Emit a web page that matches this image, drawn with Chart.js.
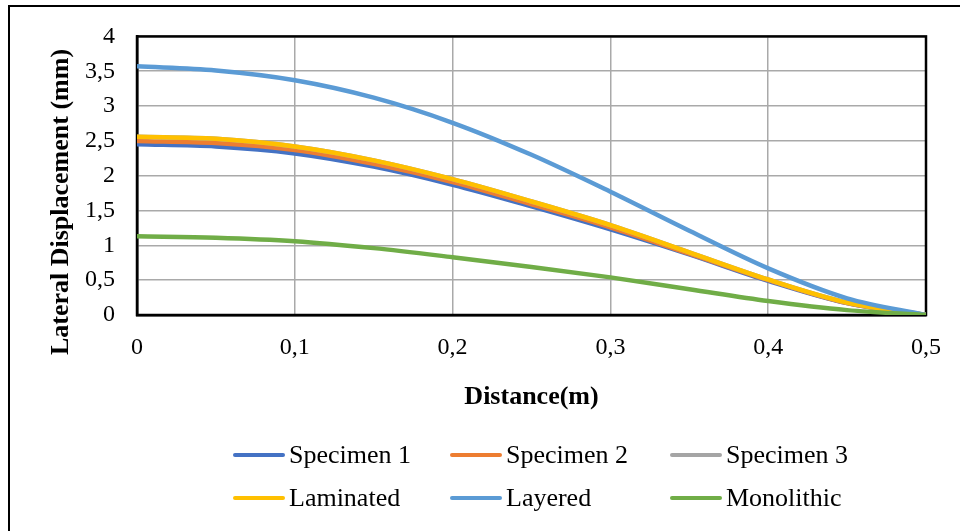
<!DOCTYPE html>
<html>
<head>
<meta charset="utf-8">
<title>Lateral Displacement</title>
<script src="https://cdn.jsdelivr.net/npm/chart.js@4.4.0/dist/chart.umd.min.js"></script>
<style>
  html, body { margin: 0; padding: 0; background: #fff; }
  #wrap { position: relative; width: 960px; height: 531px; overflow: hidden; }
  #frame { position: absolute; left: 8px; top: 5px; width: 1000px; height: 600px; border: 2px solid #000; }
  #chart { position: absolute; left: 0; top: 0; }
  #legend { position: absolute; left: 0; top: 0; font: 26px "Liberation Serif", "Times New Roman", serif; color: #000; }
  .item { position: absolute; display: flex; align-items: center; white-space: nowrap; height: 32px; }
  .swatch { display: inline-block; width: 52px; height: 4px; margin-right: 4px; border-radius: 2px; }
</style>
</head>
<body>
<div id="wrap">
  <div id="frame"></div>
  <canvas id="chart" width="960" height="531"></canvas>
  <div id="legend"></div>
</div>
<script>
  // distance along the specimen (m)
  const distance = [0, 0.05, 0.1, 0.15, 0.2, 0.25, 0.3, 0.35, 0.4, 0.45, 0.5];

  // lateral displacement (mm)
  const specimen1  = [2.45, 2.42, 2.32, 2.13, 1.87, 1.56, 1.23, 0.87, 0.49, 0.17, 0];
  const specimen2  = [2.50, 2.47, 2.37, 2.17, 1.91, 1.59, 1.26, 0.88, 0.50, 0.17, 0];
  const specimen3  = [2.56, 2.53, 2.42, 2.22, 1.95, 1.63, 1.29, 0.90, 0.51, 0.18, 0];
  const laminated  = [2.56, 2.53, 2.42, 2.22, 1.95, 1.63, 1.29, 0.90, 0.51, 0.18, 0];
  const layered    = [3.57, 3.51, 3.37, 3.12, 2.76, 2.30, 1.77, 1.21, 0.67, 0.24, 0];
  const monolithic = [1.13, 1.11, 1.06, 0.96, 0.83, 0.69, 0.54, 0.37, 0.20, 0.07, 0];

  const seriesNames  = ['Specimen 1', 'Specimen 2', 'Specimen 3', 'Laminated', 'Layered', 'Monolithic'];
  const seriesValues = [specimen1, specimen2, specimen3, laminated, layered, monolithic];
  const seriesColors = ['#4472C4', '#ED7D31', '#A5A5A5', '#FFC000', '#5B9BD5', '#70AD47'];

  const yTitle = 'Lateral Displacement (mm)';
  const serif = '"Liberation Serif", "Times New Roman", serif';
  const comma = v => String(Math.round(v * 10) / 10).replace('.', ',');

  // black box around the plot area, under the curves
  const plotFrame = {
    id: 'plotFrame',
    beforeDatasetsDraw(chart) {
      const a = chart.chartArea, c = chart.ctx;
      c.save();
      c.strokeStyle = '#000';
      c.lineWidth = 2.5;
      c.strokeRect(a.left, a.top, a.right - a.left, a.bottom - a.top);
      c.restore();
    }
  };

  // vertical axis title, sitting a bit lower than the plot centre
  const sideTitle = {
    id: 'sideTitle',
    afterDraw(chart) {
      const c = chart.ctx;
      c.save();
      c.translate(61, 202);
      c.rotate(-Math.PI / 2);
      c.font = 'bold 26px ' + serif;
      c.fillStyle = '#000';
      c.textAlign = 'center';
      c.textBaseline = 'middle';
      c.fillText(yTitle, 0, 0);
      c.restore();
    }
  };

  const chart = new Chart(document.getElementById('chart'), {
    type: 'line',
    data: {
      datasets: seriesNames.map((name, i) => ({
        label: name,
        data: distance.map((d, j) => ({ x: d, y: seriesValues[i][j] })),
        borderColor: seriesColors[i],
        backgroundColor: seriesColors[i],
        borderWidth: 4.5,
        pointRadius: 0,
        cubicInterpolationMode: 'monotone',
        fill: false,
        order: seriesNames.length - i   // later series painted on top
      }))
    },
    options: {
      responsive: false,
      animation: false,
      layout: { padding: { left: 40, top: 36, right: 34, bottom: 118 } },
      plugins: {
        legend: { display: false },
        tooltip: { enabled: false }
      },
      scales: {
        x: {
          type: 'linear',
          min: 0,
          max: 0.5,
          grid: { color: '#a9a9a9', lineWidth: 1.5, drawTicks: false },
          border: { color: '#000', width: 2.5 },
          ticks: {
            stepSize: 0.1,
            padding: 18,
            color: '#000',
            font: { family: serif, size: 24 },
            callback: v => comma(v)
          },
          title: {
            display: true,
            text: 'Distance(m)',
            color: '#000',
            font: { family: serif, size: 26, weight: 'bold' },
            padding: { top: 2, bottom: 0 }
          }
        },
        y: {
          min: 0,
          max: 4,
          grid: { color: '#a9a9a9', lineWidth: 1.5, drawTicks: false },
          border: { color: '#000', width: 2.5 },
          ticks: {
            stepSize: 0.5,
            padding: 22,
            color: '#000',
            font: { family: serif, size: 24 },
            callback: v => comma(v)
          },
          afterFit: s => { s.width = 97; }
        }
      }
    },
    plugins: [plotFrame, sideTitle]
  });

  // legend: three columns, two rows
  const legend = document.getElementById('legend');
  const colX = [233, 450, 670];
  const rowY = [455, 498];
  chart.data.datasets.forEach((ds, i) => {
    const item = document.createElement('div');
    item.className = 'item';
    item.style.left = colX[i % 3] + 'px';
    item.style.top = (rowY[Math.floor(i / 3)] - 16) + 'px';
    const sw = document.createElement('span');
    sw.className = 'swatch';
    sw.style.background = ds.borderColor;
    item.appendChild(sw);
    item.appendChild(document.createTextNode(ds.label));
    legend.appendChild(item);
  });
</script>
</body>
</html>
